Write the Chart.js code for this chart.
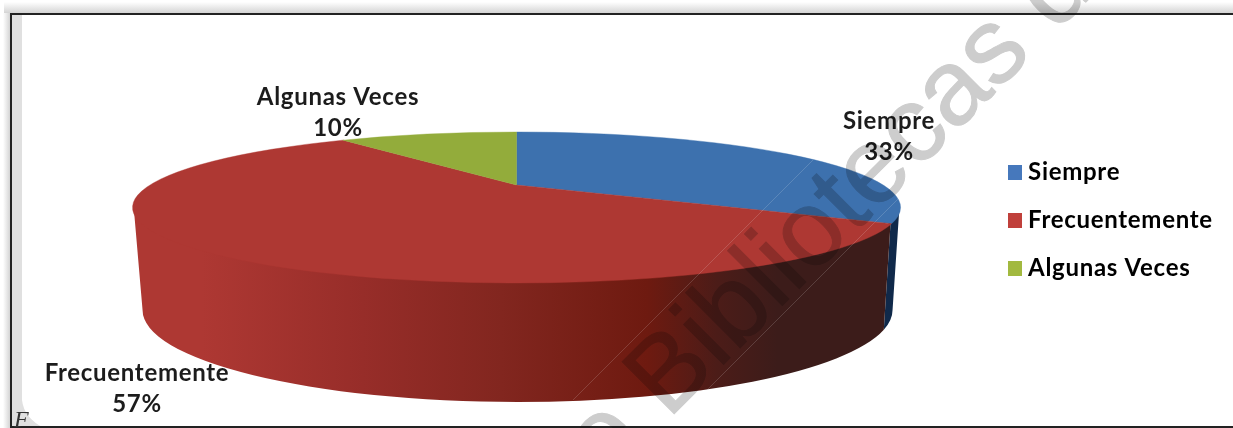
<!DOCTYPE html>
<html>
<head>
<meta charset="utf-8">
<style>html,body{margin:0;padding:0;background:#fff;overflow:hidden}canvas{display:block}</style>
<script src="https://cdn.jsdelivr.net/npm/chart.js@4/dist/chart.umd.min.js"></script>
</head>
<body>
<canvas id="c" width="1233" height="428"></canvas>
<script>
const categories = ['Siempre', 'Frecuentemente', 'Algunas Veces'];
const seriesValues = [33, 57, 10];
const topColors = ['#3d71ae', '#ae3833', '#93ac3b'];
const sideColors = ['#10294a', null, '#6d8028'];
const legendColors = ['#4678bc', '#c0403b', '#a2b93f'];
const labelCenters = [[889, 121], [137, 373], [338, 97]];
const watermarkText = 'de Bibliotecas de';

const FONT = 'Lato, "Open Sans", sans-serif';
const RX_SCALE = 384 / 75.5, APEX = -0.298;
const LOWER = {rx: 375, ry: 92, dy: 102.5, dx: 1};

function swatch(color) {
  const s = document.createElement('canvas');
  s.width = 14; s.height = 15;
  const g = s.getContext('2d');
  g.fillStyle = color; g.fillRect(0, 0, 14, 15);
  return s;
}
// perspective map: chart angle -> parameter on the projected ellipse
function project(angle) {
  const u = Math.cos(angle), v = Math.sin(angle);
  const d = 1 + APEX * v;
  return Math.atan2((v + APEX) / d, u * Math.sqrt(1 - APEX * APEX) / d);
}
const pie3d = {
  id: 'pie3d',
  beforeDraw(chart) {
    const ctx = chart.ctx;
    ctx.save();
    let g = ctx.createLinearGradient(0, 2, 0, 13);
    g.addColorStop(0, '#ffffff'); g.addColorStop(1, '#d4d4d4');
    ctx.fillStyle = g; ctx.fillRect(4, 0, 1229, 13);
    g = ctx.createLinearGradient(3, 0, 10, 0);
    g.addColorStop(0, '#ffffff'); g.addColorStop(1, '#d4d4d4');
    ctx.fillStyle = g; ctx.fillRect(0, 13, 10, 415);
    ctx.fillStyle = '#e0e0e0';
    ctx.beginPath();
    ctx.moveTo(12, 15); ctx.lineTo(22, 15); ctx.lineTo(22, 400);
    ctx.quadraticCurveTo(24, 418, 44, 428); ctx.lineTo(12, 428);
    ctx.closePath(); ctx.fill();
    ctx.fillStyle = '#222'; ctx.fillRect(10, 13, 1223, 2);
    ctx.fillRect(10, 13, 2, 415); ctx.fillRect(10, 426, 1223, 2);
    ctx.font = 'italic 24px "Liberation Serif"';
    ctx.fillStyle = '#333'; ctx.textAlign = 'left'; ctx.textBaseline = 'alphabetic';
    ctx.fillText('F', 14, 427);
    ctx.restore();
    ctx.letterSpacing = '0.7px';
  },
  beforeDatasetsDraw(chart) {
    const ctx = chart.ctx, arcs = chart.getDatasetMeta(0).data;
    const cx = arcs[0].x, cy = arcs[0].y, ry = arcs[0].outerRadius, rx = ry * RX_SCALE;
    const lx = cx + LOWER.dx, ly = cy + LOWER.dy;
    const apexY = cy + APEX * ry;
    const params = arcs.map(a => [project(a.startAngle), project(a.endAngle)]);
    ctx.save();
    const grad = ctx.createLinearGradient(cx - rx, 0, cx + rx, 0);
    grad.addColorStop(0, '#ae3833');
    grad.addColorStop(0.09, '#ae3833');
    grad.addColorStop(0.30, '#972d29');
    grad.addColorStop(0.48, '#82261f');
    grad.addColorStop(0.67, '#6e1a10');
    grad.addColorStop(0.76, '#4c1c18');
    grad.addColorStop(0.84, '#3c1c1a');
    grad.addColorStop(1, '#3c1c1a');
    // walls start slightly above the rim so no seam shows under the top face
    ctx.beginPath();
    ctx.ellipse(cx, cy - 2, rx - 1, ry, 0, 0, params[0][1], false);
    ctx.ellipse(lx, ly, LOWER.rx, LOWER.ry, 0, params[0][1], 0, true);
    ctx.closePath();
    ctx.fillStyle = sideColors[0];
    ctx.fill();
    ctx.beginPath();
    ctx.ellipse(cx, cy - 2, rx - 1, ry, 0, params[0][1], Math.PI, false);
    ctx.ellipse(lx, ly, LOWER.rx, LOWER.ry, 0, Math.PI, params[0][1], true);
    ctx.closePath();
    ctx.fillStyle = grad;
    ctx.fill();
    // top face
    arcs.forEach((a, i) => {
      ctx.beginPath();
      ctx.moveTo(cx, apexY);
      ctx.ellipse(cx, cy, rx, ry, 0, params[i][0], params[i][1], false);
      ctx.closePath();
      ctx.fillStyle = topColors[i];
      ctx.fill();
      ctx.strokeStyle = topColors[i];
      ctx.lineWidth = 0.4;
      ctx.stroke();
    });
    // data labels
    ctx.font = 'bold 24px ' + FONT;
    ctx.fillStyle = '#1c1c1c';
    ctx.textAlign = 'center';
    ctx.textBaseline = 'middle';
    categories.forEach((name, i) => {
      const [x, y] = labelCenters[i];
      ctx.fillText(name, x, y);
      ctx.fillText(seriesValues[i] + '%', x, y + 31);
    });
    ctx.restore();
    return false;
  },
  afterDraw(chart) {
    const ctx = chart.ctx;
    const off = document.createElement('canvas');
    off.width = chart.width; off.height = chart.height;
    const w = off.getContext('2d');
    w.translate(668, 420);
    w.rotate(-Math.PI / 4);
    w.font = '107px "Liberation Sans"';
    w.fillStyle = '#cdcdcd';
    w.strokeStyle = '#cdcdcd';
    w.lineWidth = 1;
    w.textAlign = 'left';
    w.textBaseline = 'alphabetic';
    const pre = w.measureText('de ').width;
    w.fillText(watermarkText, -pre, 0);
    w.strokeText(watermarkText, -pre, 0);
    ctx.save();
    ctx.globalCompositeOperation = 'multiply';
    ctx.drawImage(off, 0, 0);
    ctx.restore();
    ctx.save();
    ctx.strokeStyle = 'rgba(255,255,255,0.2)';
    ctx.lineWidth = 0.8;
    [[573, 400, 813, 160], [707, 390, 902, 195]].forEach(l => {
      ctx.beginPath(); ctx.moveTo(l[0], l[1]); ctx.lineTo(l[2], l[3]); ctx.stroke();
    });
    ctx.restore();
  },
  afterLayout(chart) {
    const lg = chart.legend;
    lg.top += 13; lg.bottom += 13;
  }
};

new Chart(document.getElementById('c'), {
  type: 'pie',
  data: {
    labels: categories,
    datasets: [{data: seriesValues, backgroundColor: legendColors, borderWidth: 0, radius: 75.5}]
  },
  plugins: [pie3d],
  options: {
    responsive: false,
    devicePixelRatio: 1,
    animation: false,
    layout: {padding: {left: 43, right: 20, top: 0, bottom: 13}},
    plugins: {
      tooltip: {enabled: false},
      legend: {
        position: 'right',
        labels: {
          usePointStyle: true,
          pointStyleWidth: 2,
          padding: 24,
          color: '#1c1c1c',
          font: {family: FONT, weight: 'bold', size: 24, lineHeight: 1},
          generateLabels: () => categories.map((t, i) => ({
            text: t, fillStyle: legendColors[i], strokeStyle: legendColors[i],
            lineWidth: 0, pointStyle: swatch(legendColors[i]), index: i, hidden: false
          }))
        }
      }
    }
  }
});
</script>
</body>
</html>
